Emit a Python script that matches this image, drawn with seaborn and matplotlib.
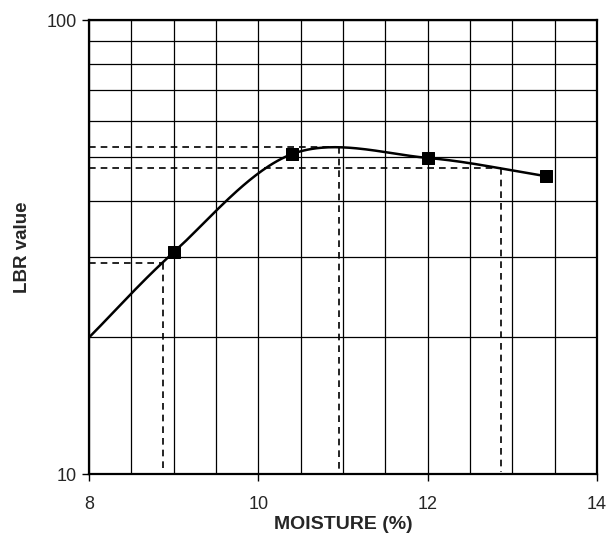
import numpy as np
import pandas as pd
import matplotlib
matplotlib.use("Agg")
import matplotlib.pyplot as plt
import matplotlib.ticker as mticker
import seaborn as sns

# Data
moisture = [9.0, 10.4, 12.0, 13.4]
lbr = [30.8, 50.7, 49.7, 45.3]
curve_start_x = 8.0
curve_start_y = 20.0

# Dashed reading lines (x where curve meets level, level value)
guide_x = [8.87, 10.95, 12.87]
guide_y = [29.2, 52.5, 47.2]

x_ticks = [8, 10, 12, 14]

sns.set_style("white")
plt.rcParams['font.family'] = ['Liberation Sans', 'DejaVu Sans']

fig = plt.figure(figsize=(6.06, 5.43), dpi=100)
ax = fig.add_axes([0.147, 0.127, 0.838, 0.836])

# Catmull-Rom smoothed curve in (x, log10 y) space
px = np.array([curve_start_x] + moisture)
py = np.log10(np.array([curve_start_y] + lbr))
P = np.column_stack([px, py])
ext = np.vstack([2 * P[0] - P[1], P, 2 * P[-1] - P[-2]])
xs, ys = [], []
t = np.linspace(0, 1, 60)
for i in range(1, len(ext) - 2):
    p0, p1, p2, p3 = ext[i - 1], ext[i], ext[i + 1], ext[i + 2]
    m1 = (p2 - p0) / 2
    m2 = (p3 - p1) / 2
    h00 = 2 * t**3 - 3 * t**2 + 1
    h10 = t**3 - 2 * t**2 + t
    h01 = -2 * t**3 + 3 * t**2
    h11 = t**3 - t**2
    seg = (h00[:, None] * p1 + h10[:, None] * m1 + h01[:, None] * p2 + h11[:, None] * m2)
    xs.extend(seg[:, 0])
    ys.extend(seg[:, 1])
curve = pd.DataFrame({"x": xs, "y": 10 ** np.array(ys)})

ax.set_yscale("log")
ax.set_xlim(8, 14)
ax.set_ylim(10, 100)

sns.lineplot(data=curve, x="x", y="y", sort=False, color="black", lw=1.8, ax=ax, zorder=4)

# Dashed guides
for gx, gy in zip(guide_x, guide_y):
    ax.plot([8, gx], [gy, gy], ls=(0, (4, 3)), color="black", lw=1.2, zorder=3)
    ax.plot([gx, gx], [gy, 10.1], ls=(0, (4, 3)), color="black", lw=1.2, zorder=3)

pts = pd.DataFrame({"m": moisture, "v": lbr})
sns.scatterplot(data=pts, x="m", y="v", marker="s", s=80, color="black",
                edgecolor="black", ax=ax, zorder=5)

# Grid
ax.xaxis.set_major_locator(mticker.FixedLocator(x_ticks))
ax.xaxis.set_minor_locator(mticker.MultipleLocator(0.5))
ax.yaxis.set_major_locator(mticker.FixedLocator([10, 100]))
ax.yaxis.set_minor_locator(mticker.LogLocator(base=10, subs=np.arange(2, 10)))
ax.yaxis.set_major_formatter(mticker.FuncFormatter(lambda v, p: f"{v:g}"))
ax.yaxis.set_minor_formatter(mticker.NullFormatter())
ax.grid(which="both", color="black", lw=0.9)
ax.set_axisbelow(True)

ax.tick_params(axis="both", which="major", direction="out", length=5, width=1,
               labelsize=13, color="black", left=True, bottom=True)
ax.tick_params(axis="x", which="major", pad=11)
ax.tick_params(axis="y", which="major", pad=4)
ax.tick_params(axis="both", which="minor", length=0)

for s in ax.spines.values():
    s.set_color("black")
    s.set_linewidth(1.6)

ax.set_xlabel("MOISTURE (%)", fontsize=14, fontweight="bold", labelpad=2)
ax.set_ylabel("LBR value", fontsize=13.5, fontweight="bold", labelpad=11)

fig.savefig("out.png", dpi=100)
